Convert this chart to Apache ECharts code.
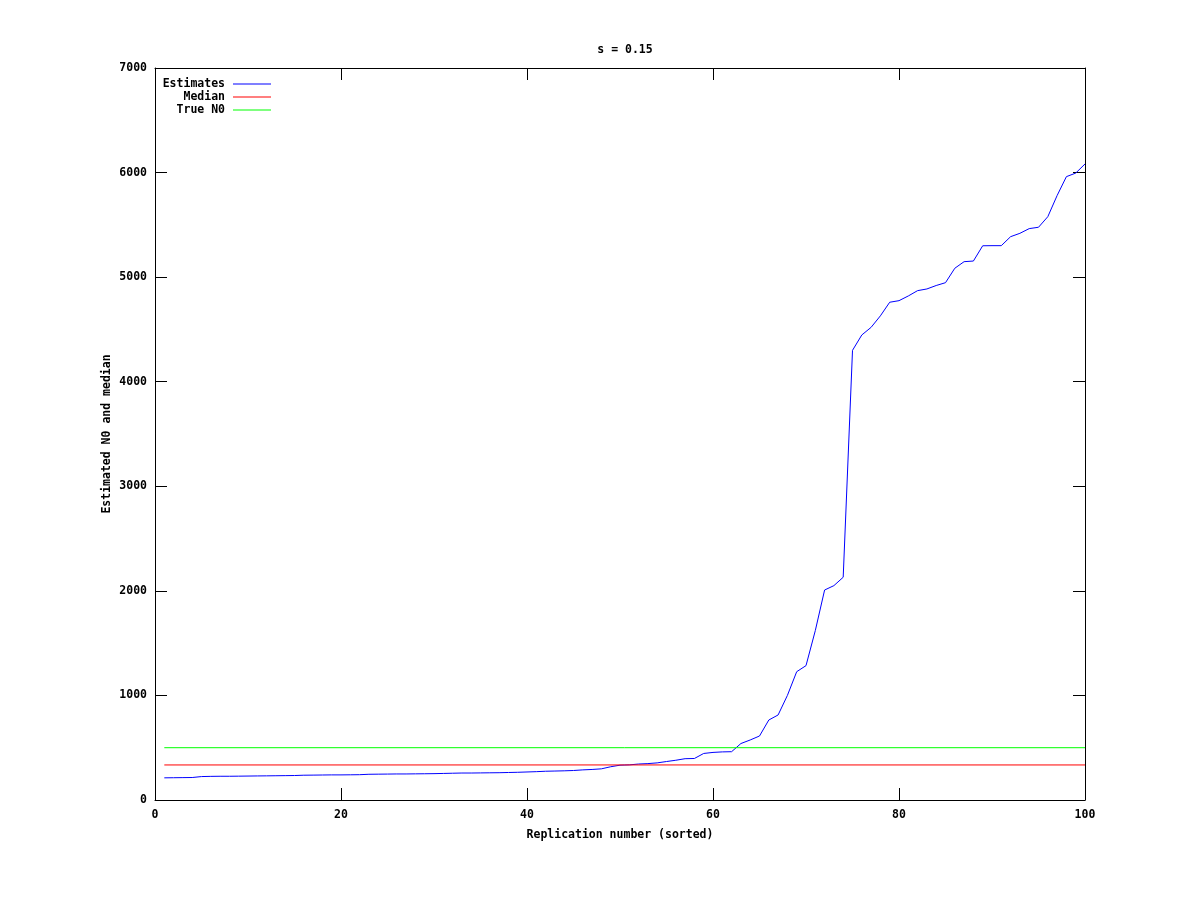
<!DOCTYPE html>
<html>
<head>
<meta charset="utf-8">
<script src="https://cdn.jsdelivr.net/npm/echarts@6/dist/echarts.min.js"></script>
<style>html,body{margin:0;padding:0;background:#fff}#c{width:1200px;height:900px}</style>
</head>
<body>
<div id="c"></div>
<script>
// Data
const titleText = 's = 0.15';
const xName = 'Replication number (sorted)';
const yName = 'Estimated N0 and median';
const seriesNames = ['Estimates', 'Median', 'True N0'];
const replication = Array.from({length: 100}, (_, k) => k + 1);
const estimates = [
  212, 213, 214, 215, 224, 226, 227, 227, 228, 229,
  230, 231, 232, 233, 234, 237, 238, 239, 240, 240,
  241, 242, 246, 247, 248, 249, 249, 250, 251, 252,
  254, 256, 258, 258, 259, 260, 261, 263, 265, 268,
  271, 275, 277, 279, 282, 288, 292, 298, 318, 333,
  336, 344, 348, 355, 368, 380, 395, 397, 445, 455,
  460, 462, 540, 574, 612, 765, 813, 1000, 1227, 1285,
  1620, 2008, 2050, 2130, 4300, 4447, 4520, 4630, 4760, 4775,
  4820, 4871, 4887, 4920, 4947, 5085, 5148, 5154, 5300, 5301,
  5301, 5387, 5419, 5464, 5477, 5578, 5780, 5961, 5995, 6082
];
const medianValue = 335;
const trueN0 = 500;
const xTicks = {min: 0, max: 100, interval: 20};
const yTicks = {min: 0, max: 7000, interval: 1000};

const FONT = 'DejaVu Sans Mono';
const txt = {fontFamily: FONT, fontWeight: 'bold', fontSize: 11.5, color: '#000'};

const estData = replication.map((x, i) => [x, estimates[i]]);
const medData = [[replication[0], medianValue], [replication[replication.length - 1], medianValue]];
const trueData = [[replication[0], trueN0], [replication[replication.length - 1], trueN0]];

const axisLine = {show: true, onZero: false, lineStyle: {color: '#000', width: 1}};
const tick = {show: true, inside: true, length: 12, lineStyle: {color: '#000', width: 1}};
const plain = v => String(v);

const legends = seriesNames.map((n, i) => ({
  data: [n],
  right: 1200 - 271,
  top: 78 + i * 13,
  align: 'right',
  icon: 'rect',
  itemWidth: 38,
  itemHeight: 1,
  itemGap: 0,
  padding: 0,
  selectedMode: false,
  textStyle: Object.assign({}, txt, {padding: [0, 3, 0, 0]})
}));

const chart = echarts.init(document.getElementById('c'), null, {renderer: 'canvas'});
chart.setOption({
  animation: false,
  backgroundColor: '#fff',
  title: {text: titleText, left: 620, textAlign: 'center', top: 39, textStyle: txt},
  legend: legends,
  grid: {left: 155, right: 115, top: 68, bottom: 100, containLabel: false},
  xAxis: [
    {type: 'value', min: xTicks.min, max: xTicks.max, interval: xTicks.interval, position: 'bottom',
     name: xName, nameLocation: 'middle', nameGap: 29, nameTextStyle: txt, nameMoveOverlap: false,
     axisLine, axisTick: tick, splitLine: {show: false},
     axisLabel: Object.assign({}, txt, {margin: 9, formatter: plain})},
    {type: 'value', min: xTicks.min, max: xTicks.max, interval: xTicks.interval, position: 'top',
     axisLine, axisTick: tick, splitLine: {show: false}, axisLabel: {show: false}}
  ],
  yAxis: [
    {type: 'value', min: yTicks.min, max: yTicks.max, interval: yTicks.interval, position: 'left',
     name: yName, nameLocation: 'middle', nameGap: 42, nameRotate: 90, nameTextStyle: txt, nameMoveOverlap: false,
     axisLine, axisTick: tick, splitLine: {show: false},
     axisLabel: Object.assign({}, txt, {margin: 8, formatter: plain})},
    {type: 'value', min: yTicks.min, max: yTicks.max, interval: yTicks.interval, position: 'right',
     axisLine, axisTick: tick, splitLine: {show: false}, axisLabel: {show: false}}
  ],
  series: [
    {name: seriesNames[0], type: 'line', data: estData, showSymbol: false, symbol: 'none',
     lineStyle: {color: '#0000ff', width: 1}, itemStyle: {color: '#0000ff'}, z: 2},
    {name: seriesNames[1], type: 'line', data: medData, showSymbol: false, symbol: 'none',
     lineStyle: {color: '#ff0000', width: 1}, itemStyle: {color: '#ff0000'}, z: 3},
    {name: seriesNames[2], type: 'line', data: trueData, showSymbol: false, symbol: 'none',
     lineStyle: {color: '#00ff00', width: 1}, itemStyle: {color: '#00ff00'}, z: 4}
  ]
});
</script>
</body>
</html>
